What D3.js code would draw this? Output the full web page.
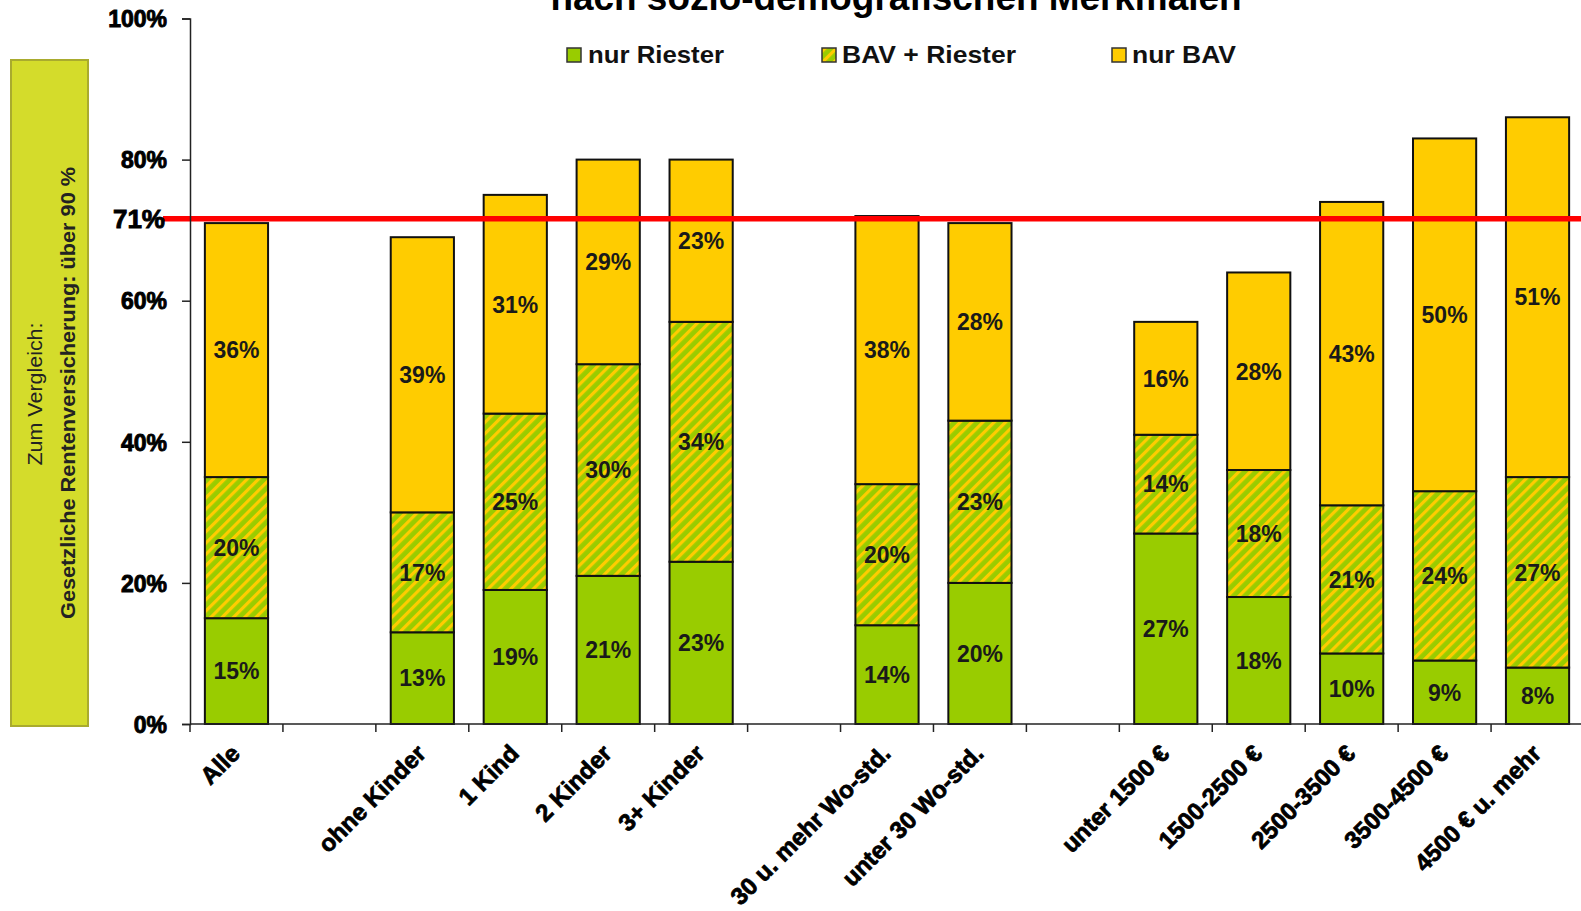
<!DOCTYPE html>
<html><head><meta charset="utf-8">
<script src="https://cdn.jsdelivr.net/npm/d3@7"></script>
<style>body{margin:0;background:#fff;}svg{display:block;}</style>
</head><body>
<svg id="chart" width="1581" height="911"></svg>
<script>
const categories = ["Alle", null, "ohne Kinder", "1 Kind", "2 Kinder", "3+ Kinder", null,
  "30 u. mehr Wo-std.", "unter 30 Wo-std.", null,
  "unter 1500 €", "1500-2500 €", "2500-3500 €", "3500-4500 €", "4500 € u. mehr"];
const nurRiester = [15, null, 13, 19, 21, 23, null, 14, 20, null, 27, 18, 10, 9, 8];
const bavRiester = [20, null, 17, 25, 30, 34, null, 20, 23, null, 14, 18, 21, 24, 27];
const nurBav     = [36, null, 39, 31, 29, 23, null, 38, 28, null, 16, 28, 43, 50, 51];
const seriesNames = ["nur Riester", "BAV + Riester", "nur BAV"];
const yTicks = [0, 20, 40, 60, 80, 100];
const refValue = 71.6;
const refLabel = "71%";
const titleText = "nach sozio-demografischen Merkmalen";
const boxLine1 = "Zum Vergleich:";
const boxLine2 = "Gesetzliche Rentenversicherung: über 90 %";

const svg = d3.select("#chart");
const FONT = "'Liberation Sans', Arial, sans-serif";
const NARROW = "'Liberation Sans Narrow', 'Arial Narrow', 'Liberation Sans', Arial, sans-serif";

const defs = svg.append("defs");
const P = 8;
const pat = defs.append("pattern").attr("id", "hatch").attr("width", P).attr("height", P)
  .attr("patternUnits", "userSpaceOnUse").attr("patternTransform", "rotate(45)");
pat.append("rect").attr("width", P).attr("height", P).attr("fill", "#99cc00");
pat.append("rect").attr("width", 3.2).attr("height", P).attr("fill", "#ffcc00");
const fills = ["#99cc00", "url(#hatch)", "#ffcc00"];

const x = d3.scaleBand().domain(d3.range(categories.length)).range([190, 1584]).padding(0);
const y = d3.scaleLinear().domain([0, 100]).range([724, 18.5]);
const barW = x.bandwidth() * 0.68;

// title (partly cut at top, as in the original)
svg.append("text").attr("x", 896).attr("y", 10).attr("text-anchor", "middle")
  .attr("font-family", FONT).attr("font-weight", "bold").attr("font-size", 36)
  .attr("textLength", 691).attr("lengthAdjust", "spacingAndGlyphs").text(titleText);

// comparison box
svg.append("rect").attr("x", 11).attr("y", 60).attr("width", 77).attr("height", 666)
  .attr("fill", "#d4dc2b").attr("stroke", "#a9ab2e").attr("stroke-width", 2);
svg.append("text").attr("transform", "translate(42,394) rotate(-90)").attr("text-anchor", "middle")
  .attr("font-family", NARROW).attr("font-size", 21).attr("fill", "#222")
  .attr("textLength", 143).attr("lengthAdjust", "spacingAndGlyphs").text(boxLine1);
svg.append("text").attr("transform", "translate(75,393) rotate(-90)").attr("text-anchor", "middle")
  .attr("font-family", NARROW).attr("font-weight", "bold").attr("font-size", 21).attr("fill", "#222")
  .attr("textLength", 452).attr("lengthAdjust", "spacingAndGlyphs").text(boxLine2);

// legend
const legendPos = [{sx: 567, tx: 588, w: 136}, {sx: 822, tx: 842, w: 174}, {sx: 1112, tx: 1132, w: 104}];
seriesNames.forEach((n, i) => {
  const lp = legendPos[i];
  svg.append("rect").attr("x", lp.sx).attr("y", 48).attr("width", 14).attr("height", 14)
    .attr("fill", fills[i]).attr("stroke", "#333").attr("stroke-width", 1.5);
  svg.append("text").attr("x", lp.tx).attr("y", 63).attr("font-family", FONT).attr("font-weight", "bold")
    .attr("font-size", 24).attr("fill", "#111")
    .attr("textLength", lp.w).attr("lengthAdjust", "spacingAndGlyphs").text(n);
});

// bars
const rows = categories.map((c, i) => ({i, c, a: nurRiester[i], b: bavRiester[i], n: nurBav[i]}))
  .filter(d => d.c !== null);
const stacked = d3.stack().keys(["a", "b", "n"])(rows);
stacked.forEach((layer, li) => {
  svg.append("g").selectAll("rect").data(layer).join("rect")
    .attr("x", d => x(d.data.i) + (x.bandwidth() - barW) / 2)
    .attr("y", d => y(d[1]))
    .attr("width", barW)
    .attr("height", d => y(d[0]) - y(d[1]))
    .attr("fill", fills[li]).attr("stroke", "#111").attr("stroke-width", 2);
});

// reference line
svg.append("line").attr("x1", 163).attr("x2", 1581).attr("y1", y(refValue)).attr("y2", y(refValue))
  .attr("stroke", "#ff0000").attr("stroke-width", 5.5);

// segment labels
stacked.forEach((layer, li) => {
  svg.append("g").selectAll("text").data(layer).join("text")
    .attr("x", d => x(d.data.i) + x.bandwidth() / 2)
    .attr("y", d => y((d[0] + d[1]) / 2))
    .attr("dy", "0.36em").attr("text-anchor", "middle")
    .attr("font-family", FONT).attr("font-weight", "bold").attr("font-size", 23).attr("fill", "#1a1a1a")
    .text(d => (d[1] - d[0]) + "%");
});

// y axis
const yAxis = d3.axisLeft(y).tickValues(yTicks).tickSize(8).tickFormat(d => d + "%");
const yg = svg.append("g").attr("transform", "translate(190,0)").call(yAxis);
yg.select(".domain").attr("stroke", "#222").attr("stroke-width", 1.5);
yg.selectAll(".tick line").attr("stroke", "#222").attr("stroke-width", 1.5);
yg.selectAll(".tick text").attr("x", -23).attr("dy", "0.36em")
  .attr("font-family", FONT).attr("font-weight", "bold").attr("font-size", 23).attr("fill", "#000")
  .attr("stroke", "#000").attr("stroke-width", 0.9);
svg.append("text").attr("x", 165).attr("y", y(refValue)).attr("dy", "0.36em").attr("text-anchor", "end")
  .attr("font-family", FONT).attr("font-weight", "bold").attr("font-size", 26).attr("fill", "#000")
  .attr("stroke", "#000").attr("stroke-width", 0.9).text(refLabel);

// x axis
const xg = svg.append("g").attr("transform", "translate(0,724)");
xg.append("line").attr("x1", 190).attr("x2", 1581).attr("y1", 0).attr("y2", 0)
  .attr("stroke", "#222").attr("stroke-width", 1.5);
xg.selectAll("line.tk").data(d3.range(categories.length)).join("line").attr("class", "tk")
  .attr("x1", d => x(d)).attr("x2", d => x(d)).attr("y1", 0).attr("y2", 8)
  .attr("stroke", "#222").attr("stroke-width", 1.5);
svg.append("g").selectAll("text").data(rows).join("text")
  .attr("transform", d => `translate(${x(d.i) + x.bandwidth() / 2 + 5},755) rotate(-45)`)
  .attr("text-anchor", "end")
  .attr("font-family", FONT).attr("font-weight", "bold").attr("font-size", 24).attr("fill", "#000")
  .attr("stroke", "#000").attr("stroke-width", 0.8)
  .text(d => d.c);
</script>
</body></html>
